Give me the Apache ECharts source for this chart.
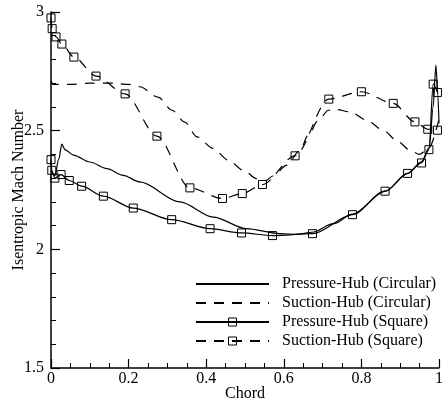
<!DOCTYPE html>
<html>
<head>
<meta charset="utf-8">
<script src="https://cdn.jsdelivr.net/npm/echarts@6/dist/echarts.min.js"></script>
<style>
  html, body { margin: 0; padding: 0; background: #fff; }
  #chart { width: 442px; height: 400px; }
</style>
</head>
<body>
<div id="chart"></div>
<script>
var seriesNames = ['Pressure-Hub (Circular)', 'Suction-Hub (Circular)', 'Pressure-Hub (Square)', 'Suction-Hub (Square)'];

// [chord, mach]
var pressureCircular = [
    [0, 2.33], [0.01, 2.31], [0.02, 2.38], [0.028, 2.443], [0.036, 2.42], [0.058, 2.397],
    [0.10, 2.368], [0.144, 2.34], [0.186, 2.312], [0.229, 2.284], [0.332, 2.20], [0.418, 2.136],
    [0.504, 2.087], [0.59, 2.066], [0.633, 2.063], [0.673, 2.072], [0.728, 2.108], [0.777, 2.148],
    [0.861, 2.245], [0.92, 2.32], [0.955, 2.37], [0.975, 2.43], [0.985, 2.6], [0.992, 2.776],
    [0.997, 2.65], [1.0, 2.53]
];
var suctionCircular = [
    [0, 2.71], [0.005, 2.695], [0.05, 2.695], [0.1, 2.70], [0.16, 2.70], [0.2, 2.695],
    [0.229, 2.685], [0.276, 2.641], [0.312, 2.586], [0.345, 2.536], [0.376, 2.474], [0.418, 2.425],
    [0.457, 2.376], [0.496, 2.333], [0.53, 2.298], [0.553, 2.29], [0.573, 2.31], [0.607, 2.354],
    [0.642, 2.418], [0.663, 2.481], [0.689, 2.544], [0.715, 2.586], [0.736, 2.589], [0.771, 2.579],
    [0.814, 2.544], [0.856, 2.502], [0.895, 2.453], [0.925, 2.418], [0.95, 2.40], [0.975, 2.43],
    [1.0, 2.55]
];
var pressureSquare = [
    [0, 2.378], [0.002, 2.333], [0.01, 2.30], [0.026, 2.315], [0.047, 2.29], [0.079, 2.266],
    [0.135, 2.224], [0.212, 2.174], [0.311, 2.125], [0.41, 2.087], [0.491, 2.069], [0.571, 2.058],
    [0.674, 2.066], [0.777, 2.146], [0.861, 2.245], [0.919, 2.32], [0.955, 2.364], [0.974, 2.42],
    [0.985, 2.696], [0.996, 2.661]
];
var suctionSquare = [
    [0, 2.975], [0.003, 2.93], [0.013, 2.895], [0.028, 2.865], [0.059, 2.81], [0.116, 2.73],
    [0.191, 2.655], [0.273, 2.477], [0.358, 2.259], [0.442, 2.214], [0.493, 2.235], [0.545, 2.273],
    [0.629, 2.394], [0.716, 2.633], [0.80, 2.664], [0.882, 2.615], [0.938, 2.537], [0.971, 2.506],
    [0.996, 2.502]
];

var xTicks = [0, 0.2, 0.4, 0.6, 0.8, 1];
var yTicks = [1.5, 2, 2.5, 3];

var font = 'Liberation Serif, Times New Roman, serif';
var myChart = echarts.init(document.getElementById('chart'));

function makeSeries(name, data, dashed, marked) {
    return {
        name: name,
        type: 'line',
        data: data,
        smooth: 0.3,
        smoothMonotone: 'x',
        symbol: marked ? 'rect' : 'none',
        symbolSize: 8,
        showSymbol: marked,
        lineStyle: { color: '#000', width: 1.2, type: dashed ? [10, 8] : 'solid' },
        itemStyle: { color: 'rgba(255,255,255,0)', borderColor: '#000', borderWidth: 1 },
        emphasis: { disabled: true }
    };
}

// no marker in the legend for the plain lines
var legendData = seriesNames.map(function (n, i) {
    return i < 2
        ? { name: n, itemStyle: { color: 'rgba(0,0,0,0)', borderWidth: 0, opacity: 0 } }
        : { name: n, itemStyle: { color: 'rgba(255,255,255,0)', borderColor: '#000', borderWidth: 1 } };
});

var option = {
    animation: false,
    backgroundColor: '#fff',
    grid: { left: 51, right: 3, top: 12, bottom: 32, containLabel: false, outerBoundsMode: 'none' },
    legend: {
        orient: 'vertical',
        left: 190,
        top: 271,
        itemWidth: 73,
        itemHeight: 10,
        itemGap: 3,
        data: legendData,
        textStyle: { fontFamily: font, fontSize: 16, color: '#000', padding: [0, 0, 0, 8], lineHeight: 14 }
    },
    xAxis: {
        type: 'value',
        min: xTicks[0],
        max: xTicks[xTicks.length - 1],
        interval: 0.2,
        name: 'Chord',
        nameLocation: 'middle',
        nameGap: 18,
        nameMoveOverlap: false,
        nameTextStyle: { fontFamily: font, fontSize: 16, color: '#000' },
        axisLine: { lineStyle: { color: '#000', width: 1.5 } },
        axisTick: { inside: true, length: 9, lineStyle: { color: '#000', width: 1.2 } },
        minorTick: { show: true, splitNumber: 4, length: 5, lineStyle: { color: '#000', width: 1 } },
        splitLine: { show: false },
        axisLabel: {
            fontFamily: font, fontSize: 16, color: '#000', margin: 3,
            formatter: function (v) { return xTicks.indexOf(+v.toFixed(1)) >= 0 ? String(+v.toFixed(1)) : ''; }
        }
    },
    yAxis: {
        type: 'value',
        min: yTicks[0],
        max: yTicks[yTicks.length - 1],
        interval: 0.5,
        name: 'Isentropic Mach Number',
        nameLocation: 'middle',
        nameGap: 24,
        nameMoveOverlap: false,
        nameTextStyle: { fontFamily: font, fontSize: 16, color: '#000' },
        axisLine: { lineStyle: { color: '#000', width: 1.5 } },
        axisTick: { inside: true, length: 9, lineStyle: { color: '#000', width: 1.2 } },
        minorTick: { show: true, splitNumber: 5, length: 5, lineStyle: { color: '#000', width: 1 } },
        splitLine: { show: false },
        axisLabel: { fontFamily: font, fontSize: 16, color: '#000', margin: 7 }
    },
    series: [
        makeSeries(seriesNames[0], pressureCircular, false, false),
        makeSeries(seriesNames[1], suctionCircular, true, false),
        makeSeries(seriesNames[2], pressureSquare, false, true),
        makeSeries(seriesNames[3], suctionSquare, true, true)
    ]
};
myChart.setOption(option);
</script>
</body>
</html>
